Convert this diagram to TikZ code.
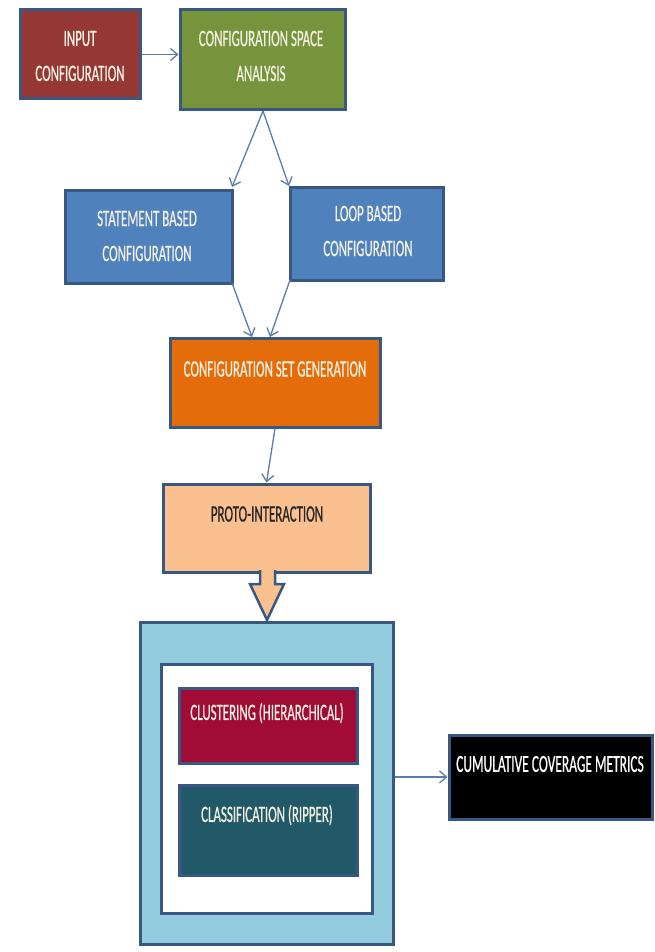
\documentclass[tikz,border=0pt]{standalone}
\usepackage{fontspec}
\setmainfont{Carlito}[FakeStretch=0.55,FakeBold=0.6]
\usetikzlibrary{arrows.meta}
\definecolor{bord}{RGB}{56,88,130}
\definecolor{arr}{RGB}{90,125,170}
\definecolor{cred}{RGB}{149,55,53}
\definecolor{cgreen}{RGB}{119,147,60}
\definecolor{cblue}{RGB}{79,129,189}
\definecolor{corange}{RGB}{228,108,10}
\definecolor{cpeach}{RGB}{250,192,144}
\definecolor{clight}{RGB}{147,205,221}
\definecolor{ccrim}{RGB}{160,12,54}
\definecolor{cteal}{RGB}{33,89,104}
\definecolor{ctext}{RGB}{242,240,225}
\tikzset{
  box/.style={draw=bord, line width=3pt, inner sep=0pt, rectangle},
  txt/.style={align=center, inner sep=0pt, text=ctext, font=\fontsize{23.5}{35}\selectfont},
  conn/.style={draw=arr, line width=1.3pt, -{Straight Barb[length=7pt,width=12pt,line width=1.3pt]}}
}
\begin{document}
\begin{tikzpicture}[x=1pt,y=-1pt]
\useasboundingbox[fill=white] (0,0) rectangle (655,952);
% boxes
\node[box, fill=cred, minimum width=120, minimum height=89] (input) at (80,54.5) {};
\node[box, fill=cgreen, minimum width=165, minimum height=100] (csa) at (262.5,60) {};
\node[box, fill=cblue, minimum width=167, minimum height=93] (stmt) at (148.5,236.5) {};
\node[box, fill=cblue, minimum width=153, minimum height=93] (loop) at (366.5,233.5) {};
\node[box, fill=corange, minimum width=210, minimum height=89] (csg) at (275,382.5) {};
\node[box, fill=cpeach, minimum width=207, minimum height=88] (proto) at (266.5,528) {};
\node[box, fill=clight, minimum width=253, minimum height=322] (outer) at (266.5,783.5) {};
\node[box, fill=white, minimum width=211, minimum height=249] (inner) at (266.5,788.5) {};
\node[box, fill=ccrim, minimum width=178, minimum height=75] (clus) at (268,725.5) {};
\node[box, fill=cteal, minimum width=178, minimum height=90] (clas) at (268,830) {};
\node[box, fill=black, minimum width=203, minimum height=84] (cum) at (550.5,777) {};
% block arrow
\draw[bord, line width=2.5pt, fill=cpeach, line join=miter]
  (260,570) -- (260,584) -- (250,584) -- (267,620) -- (284,584) -- (275,584) -- (275,570);
% texts
\node[txt] (inputT) at (80,56) {INPUT\\CONFIGURATION};
\node[txt] (csaT) at (261,56) {CONFIGURATION SPACE\\ANALYSIS};
\node[txt] (stmtT) at (147,236) {STATEMENT BASED\\CONFIGURATION};
\node[txt] (loopT) at (368,231) {LOOP BASED\\CONFIGURATION};
\node[txt] (csgT) at (275,369) {CONFIGURATION SET GENERATION};
\node[txt, text=black!85] (protoT) at (267,514) {PROTO-INTERACTION};
\node[txt] (clusT) at (267,713) {CLUSTERING (HIERARCHICAL)};
\node[txt] (clasT) at (267,815) {CLASSIFICATION (RIPPER)};
\node[txt, text=white, font=\fontsize{24.5}{35}\selectfont] (cumT) at (550,764) {CUMULATIVE COVERAGE METRICS};
% connectors
\draw[conn] (input.east) -- (input.east -| csa.west);
\coordinate (split) at (263,111);
\draw[conn] (split) -- (232,187);
\draw[conn] (split) -- (289,186);
\draw[conn] (232,283) -- (252,337);
\draw[conn] (290,280) -- (270,337);
\draw[conn] (csg.south) -- (proto.north);
\draw[conn] (outer.east |- cum.west) -- (cum.west);
\end{tikzpicture}
\end{document}
